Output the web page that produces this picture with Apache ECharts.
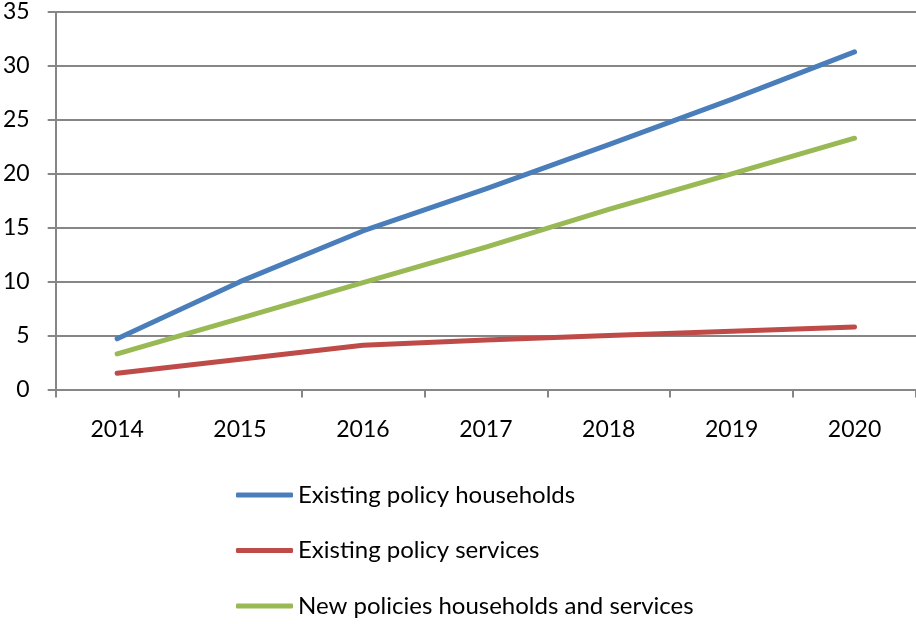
<!DOCTYPE html>
<html>
<head>
<meta charset="utf-8">
<script src="https://cdn.jsdelivr.net/npm/echarts@6/dist/echarts.min.js"></script>
<style>
  html, body { margin: 0; padding: 0; background: #fff; }
  #chart { width: 916px; height: 624px; }
</style>
</head>
<body>
<div id="chart"></div>
<script>
// Years on the category axis
const years = ['2014', '2015', '2016', '2017', '2018', '2019', '2020'];

// Series values
const existingHouseholds = [4.7, 10.0, 14.7, 18.6, 22.7, 26.9, 31.3];
const existingServices = [1.5, 2.8, 4.1, 4.6, 5.0, 5.4, 5.8];
const newPolicies = [3.3, 6.6, 9.9, 13.2, 16.7, 20.0, 23.3];

// Series names shown in the legend
const seriesNames = [
  'Existing policy households',
  'Existing policy services',
  'New policies households and services'
];
const seriesColors = ['#4a7ebb', '#be4b48', '#98b954'];

const fontFamily = 'Lato, "Open Sans", sans-serif';
const gridColor = '#868686';

const chart = echarts.init(document.getElementById('chart'), null, { renderer: 'canvas' });

const makeSeries = (name, data, color) => ({
  name: name,
  type: 'line',
  data: data,
  symbol: 'none',
  smooth: false,
  lineStyle: { color: color, width: 5, cap: 'round', join: 'round' },
  itemStyle: { color: color },
  emphasis: { disabled: true }
});

chart.setOption({
  animation: false,
  backgroundColor: '#ffffff',
  grid: { left: 55, top: 12, right: 0, bottom: 234.5, containLabel: false },
  legend: {
    orient: 'vertical',
    left: 236,
    top: 482,
    height: 142,
    padding: 0,
    icon: 'roundRect',
    itemWidth: 57,
    itemHeight: 5,
    itemGap: 29.5,
    textStyle: { fontFamily: fontFamily, fontSize: 24, lineHeight: 26, color: '#000' },
    data: seriesNames
  },
  xAxis: {
    type: 'category',
    data: years,
    boundaryGap: true,
    axisLine: { show: true, lineStyle: { color: gridColor, width: 2 } },
    axisTick: { show: true, length: 8, lineStyle: { color: gridColor, width: 2 } },
    axisLabel: { margin: 29, fontFamily: fontFamily, fontSize: 23, color: '#000' },
    splitLine: { show: false }
  },
  yAxis: {
    type: 'value',
    min: 0,
    max: 35,
    interval: 5,
    axisLine: { show: true, lineStyle: { color: gridColor, width: 2 } },
    axisTick: { show: true, length: 8, lineStyle: { color: gridColor, width: 2 } },
    axisLabel: { margin: 26, fontFamily: fontFamily, fontSize: 23, color: '#000' },
    splitLine: { show: true, lineStyle: { color: gridColor, width: 2 } }
  },
  series: [
    makeSeries(seriesNames[0], existingHouseholds, seriesColors[0]),
    makeSeries(seriesNames[1], existingServices, seriesColors[1]),
    makeSeries(seriesNames[2], newPolicies, seriesColors[2])
  ]
});
</script>
</body>
</html>
